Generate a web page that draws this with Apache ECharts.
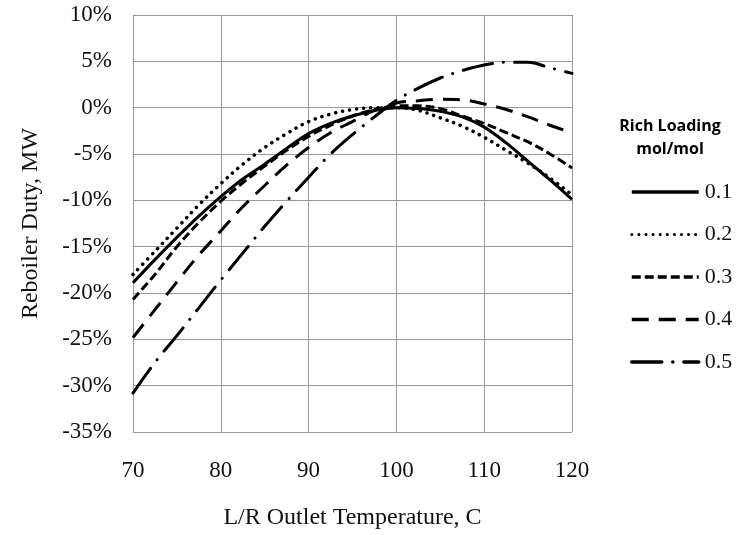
<!DOCTYPE html>
<html>
<head>
<meta charset="utf-8">
<script src="https://cdn.jsdelivr.net/npm/echarts@6/dist/echarts.min.js"></script>
<style>
html,body{margin:0;padding:0;background:#fff;}
#chart{width:738px;height:535px;}
</style>
</head>
<body>
<div id="chart"></div>
<script>
// Data
var temperatures = [70, 72.5, 75, 77.5, 80, 82.5, 85, 87.5, 90, 92.5, 95, 97.5, 100, 102.5, 105, 107.5, 110, 112.5, 115, 117.5, 120];
var seriesNames = ['0.1', '0.2', '0.3', '0.4', '0.5'];
var load01 = [-18.9, -16.4, -14.0, -11.7, -9.6, -7.7, -6.1, -4.4, -2.8, -1.7, -0.9, -0.3, 0.0, -0.1, -0.4, -1.0, -2.1, -3.8, -5.8, -7.8, -9.9];
var load02 = [-18.0, -15.5, -13.0, -10.5, -8.2, -6.1, -4.3, -2.8, -1.5, -0.7, -0.2, 0.0, 0.0, -0.3, -1.1, -2.0, -3.2, -4.6, -6.0, -7.6, -9.4];
var load03 = [-20.7, -18.0, -15.0, -12.4, -10.1, -8.1, -6.3, -4.6, -3.1, -1.9, -0.9, -0.2, 0.2, 0.2, -0.1, -0.9, -1.7, -2.7, -3.7, -5.0, -6.5];
var load04 = [-24.8, -21.8, -18.8, -15.9, -13.3, -10.7, -8.4, -6.2, -4.3, -2.7, -1.5, -0.3, 0.5, 0.75, 0.9, 0.85, 0.4, -0.2, -1.0, -1.9, -2.7];
var load05 = [-30.8, -27.5, -24.6, -21.6, -18.6, -15.7, -12.8, -10.1, -7.5, -5.0, -2.9, -1.0, 0.8, 2.1, 3.2, 4.0, 4.6, 4.9, 4.9, 4.3, 3.7];
var xTicks = [70, 80, 90, 100, 110, 120];
var yTicks = [-35, -30, -25, -20, -15, -10, -5, 0, 5, 10];

var allValues = [load01, load02, load03, load04, load05];
var dashTypes = ['solid', [0.1, 7], [9, 4], [17, 10], [30, 11, 0.1, 11]];
var caps = ['butt', 'round', 'butt', 'butt', 'round'];
var widths = [3, 3.5, 3, 3, 3];

function pairs(vals) {
  return temperatures.map(function (t, i) { return [t, vals[i]]; });
}

var serif = "'Liberation Serif', 'DejaVu Serif', serif";

var series = seriesNames.map(function (name, k) {
  return {
    name: name,
    type: 'line',
    data: pairs(allValues[k]),
    smooth: 0.35,
    symbol: 'none',
    showSymbol: false,
    lineStyle: { color: '#000', width: widths[k], type: dashTypes[k], cap: caps[k] },
    itemStyle: { color: '#000' }
  };
});

var legendData = seriesNames.map(function (name, k) {
  return { name: name, lineStyle: { width: k === 1 ? 3 : 3.5 } };
});

var chart = echarts.init(document.getElementById('chart'), null, { renderer: 'canvas' });
chart.setOption({
  animation: false,
  backgroundColor: '#fff',
  title: {
    text: 'Rich Loading\nmol/mol',
    left: 665,
    top: 110,
    textAlign: 'center',
    textStyle: { fontFamily: "'Open Sans', 'Liberation Sans', sans-serif", fontWeight: 'bold', fontSize: 16, lineHeight: 23, color: '#000' }
  },
  legend: {
    orient: 'vertical',
    left: 625,
    top: 176,
    itemWidth: 67,
    itemHeight: 22,
    itemGap: 20.5,
    data: legendData,
    lineStyle: { width: 3.5 },
    itemStyle: { color: 'rgba(0,0,0,0)', borderColor: 'rgba(0,0,0,0)', borderWidth: 0, opacity: 0 },
    textStyle: { fontFamily: serif, fontSize: 22, color: '#111', lineHeight: 22, padding: [0, 0, 0, 1] }
  },
  grid: { left: 133, top: 15, right: 166, bottom: 101, containLabel: false },
  xAxis: {
    type: 'value',
    min: xTicks[0],
    max: xTicks[xTicks.length - 1],
    interval: 10,
    name: 'L/R Outlet Temperature, C',
    nameLocation: 'middle',
    nameGap: 74,
    nameTextStyle: { fontFamily: serif, fontSize: 24, color: '#111' },
    axisLine: { show: true, lineStyle: { color: '#999', width: 1 } },
    axisTick: { show: false },
    axisLabel: { margin: 27, fontFamily: serif, fontSize: 23, color: '#111' },
    splitLine: { show: true, lineStyle: { color: '#999', width: 1 } }
  },
  yAxis: {
    type: 'value',
    min: yTicks[0],
    max: yTicks[yTicks.length - 1],
    interval: 5,
    name: 'Reboiler Duty, MW',
    nameLocation: 'middle',
    nameGap: 90,
    nameTextStyle: { fontFamily: serif, fontSize: 24, color: '#111' },
    axisLine: { show: true, lineStyle: { color: '#999', width: 1 } },
    axisTick: { show: false },
    axisLabel: { margin: 21, fontFamily: serif, fontSize: 23, color: '#111', formatter: function (v) { return v + '%'; } },
    splitLine: { show: true, lineStyle: { color: '#999', width: 1 } }
  },
  series: series
});
</script>
</body>
</html>
